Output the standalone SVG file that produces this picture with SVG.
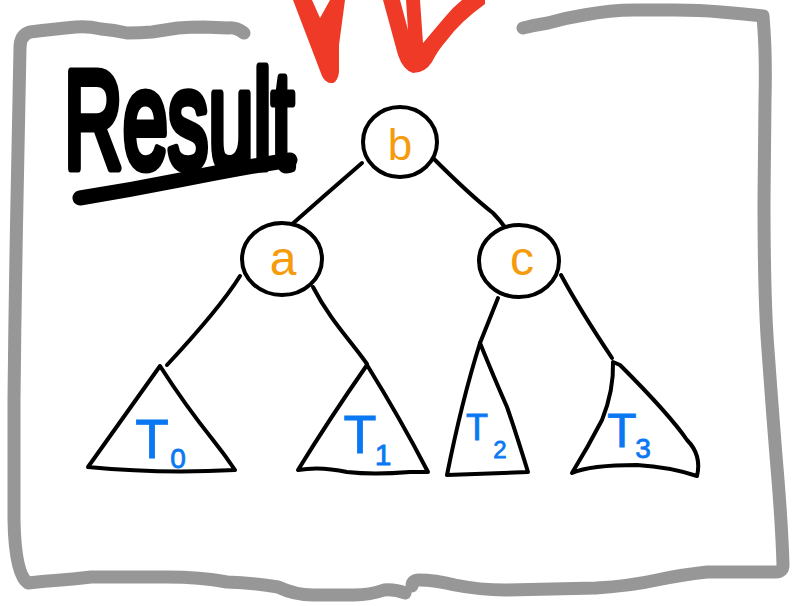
<svg xmlns="http://www.w3.org/2000/svg" width="793" height="606" viewBox="0 0 793 606">
<style>
.frame{fill:none;stroke:#979797;stroke-width:13;stroke-linecap:round;stroke-linejoin:round}
.ink{fill:none;stroke:#000;stroke-width:4;stroke-linecap:round;stroke-linejoin:round}
.node{fill:#fff;stroke:#000;stroke-width:4}
.lbl{font-family:"Liberation Sans","DejaVu Sans",sans-serif;fill:#F59B0C;text-anchor:middle}
.sub{font-family:"Liberation Sans","DejaVu Sans",sans-serif;fill:#0A78F2;text-anchor:middle;stroke:#0A78F2;stroke-width:0.8}
.red{fill:#EE3A27}
</style>
<rect width="793" height="606" fill="#fff"/>
<g id="frame">
<path class="frame" d="M244,33 Q236,27 228,28 L203,27 Q190,27 178,28 Q165,30 152,32 Q140,33 127,33 Q114,30 101,29 Q88,26 76,27 Q55,29 30,32 Q20,35 20,48 L17,200 Q15,300 14,400 L14,520 Q15,575 28,583 Q45,581 61,580 Q75,579 91,577 L167,577 Q200,577 227,582 Q255,583 278,587 Q295,595 313,595 L354,595 Q370,595 384,590 Q395,589 405,593"/>
<path class="frame" d="M412,586 Q412,580 419,580 Q435,580 455,585 Q480,590 505,590 L596,588 Q630,586 657,580 Q680,575 707,572 L776,572 Q783,572 783,565 Q782,530 778,480 Q773,420 768,350 Q764,300 764,200 L765,100 Q766,60 764,30 L763,16 Q745,14 721,12 Q700,10 675,10 L635,10 Q610,10 584,15 Q565,18 548,23 Q535,25 523,28"/>
</g>
<g id="arrows">
<path class="red" d="M293,0 L322,76 Q326,84 333,83 Q338,81 339,72 L339,45 L345,0 L330,0 L320,18 L312,0 Z"/>
<path class="red" d="M383,0 L398,55 Q403,70 413,73 Q425,73 432,62 Q438,50 447,40 Q460,22 485,4 L485,0 L462,0 Q452,8 445,17 L423,43 L420,0 L406,0 L408,30 L400,0 Z"/>
</g>
<g id="title">
<text transform="translate(64,168) scale(0.58,1)" x="0" y="0" font-family="'Liberation Sans','DejaVu Sans',sans-serif" font-size="140" fill="#000" stroke="#000" stroke-width="9" stroke-linejoin="round" stroke-linecap="round">Result</text>
<path d="M80,198 Q130,190 180,180 Q240,168 290,160" fill="none" stroke="#000" stroke-width="15" stroke-linecap="round"/>
</g>
<g id="connectors">
<path class="ink" d="M362,163 Q325,195 290,226"/>
<path class="ink" d="M433,158 Q470,195 493,213 Q500,220 507,230"/>
<path class="ink" d="M240,276 C225,300 195,335 167,365"/>
<path class="ink" d="M313,287 C330,320 350,340 367,364"/>
<path class="ink" d="M498,298 Q490,318 480,343"/>
<path class="ink" d="M561,275 Q580,310 612,358"/>
</g>
<g id="node-b">
<ellipse class="node" cx="400" cy="142" rx="37" ry="35"/>
<text class="lbl" x="400" y="160" font-size="44">b</text>
</g>
<g id="node-a">
<ellipse class="node" cx="282" cy="259" rx="40" ry="36"/>
<text class="lbl" x="283" y="275" font-size="48">a</text>
</g>
<g id="node-c">
<ellipse class="node" cx="519" cy="261" rx="40" ry="36"/>
<text class="lbl" x="522" y="275" font-size="48">c</text>
</g>
<g id="T0">
<path class="ink" d="M160,366 Q125,415 88,467 Q160,474 235,470 Q225,455 213,440 Q185,405 160,366 Z"/>
<text class="sub" x="152" y="458" font-size="55">T</text>
<text class="sub" x="178" y="468" font-size="28">0</text>
</g>
<g id="T1">
<path class="ink" d="M367,365 Q330,418 298,470 Q320,466 347,472 Q373,475 410,472 L428,472 Q400,418 367,365 Z"/>
<text class="sub" x="360" y="453" font-size="54">T</text>
<text class="sub" x="383" y="465" font-size="30">1</text>
</g>
<g id="T2">
<path class="ink" d="M480,343 Q462,400 447,475 L528,472 Q515,430 507,407 Q495,380 480,343 Z"/>
<text class="sub" x="477" y="440" font-size="36">T</text>
<text class="sub" x="500" y="458" font-size="24">2</text>
</g>
<g id="T3">
<path class="ink" d="M613,362 Q614,390 602,420 Q588,447 572,473 Q590,465 637,465 Q670,467 697,476 Q702,455 687,440 Q670,415 620,365 Z"/>
<text class="sub" x="622" y="447" font-size="48">T</text>
<text class="sub" x="643" y="458" font-size="28">3</text>
</g>
</svg>
